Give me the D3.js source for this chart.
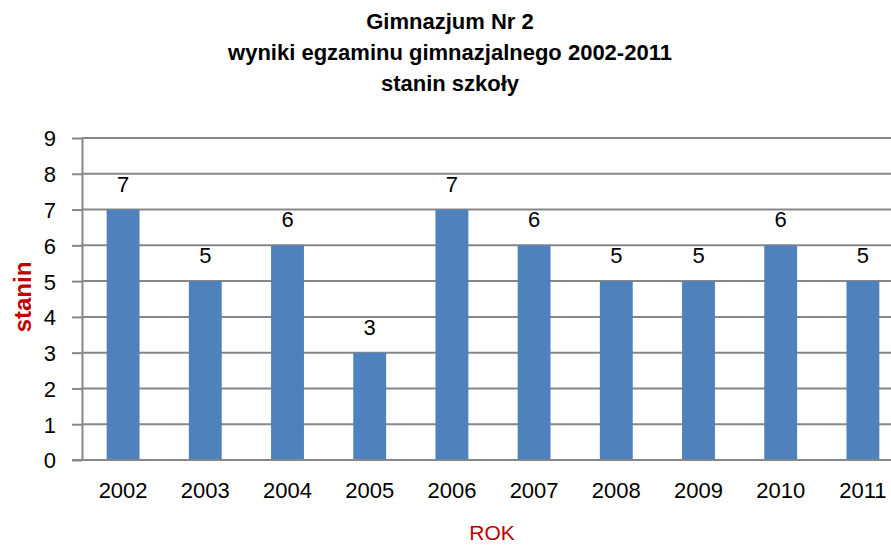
<!DOCTYPE html>
<html lang="pl">
<head>
  <meta charset="UTF-8" />
  <title>Gimnazjum Nr 2 - stanin szkoły</title>
  <script src="https://d3js.org/d3.v7.min.js"></script>
  <style>
    body {
      margin: 0;
      background-color: white;
      font-family: "Liberation Sans", Arial, sans-serif;
    }

    svg {
      display: block;
      background-color: white;
    }

    .grid line {
      stroke: #878787;
      stroke-width: 2px;
    }

    .axis path,
    .axis line {
      stroke: #878787;
      stroke-width: 2px;
    }

    .axis text {
      fill: black;
      font-size: 22px;
    }

    .bar-label {
      font-size: 22px;
      fill: black;
      text-anchor: middle;
    }

    .title {
      font-size: 22px;
      font-weight: bold;
      text-anchor: middle;
    }

    .axis-title {
      fill: #c00000;
      font-size: 21px;
      text-anchor: middle;
    }
  </style>
</head>
<body>
  <svg width="891" height="545"></svg>

  <script>
    const years = ["2002", "2003", "2004", "2005", "2006", "2007", "2008", "2009", "2010", "2011"];
    const stanin = [7, 5, 6, 3, 7, 6, 5, 5, 6, 5];
    const yTicks = [0, 1, 2, 3, 4, 5, 6, 7, 8, 9];
    const titleLines = ["Gimnazjum Nr 2", "wyniki egzaminu gimnazjalnego 2002-2011", "stanin szkoły"];

    const data = years.map((y, i) => ({ year: y, value: stanin[i] }));

    const svg = d3.select("svg"),
          margin = { top: 138, left: 82, bottom: 85 },
          height = +svg.attr("height"),
          plotRight = 904;

    const x = d3.scaleBand()
                .domain(years)
                .range([margin.left, plotRight])
                .paddingInner(0.6)
                .paddingOuter(0.3);

    const y = d3.scaleLinear()
                .domain([0, 9])
                .range([height - margin.bottom, margin.top]);

    // gridlines
    svg.append("g")
       .attr("class", "grid")
       .selectAll("line")
       .data(yTicks.slice(1))
       .enter()
       .append("line")
       .attr("x1", margin.left)
       .attr("x2", plotRight)
       .attr("y1", d => y(d))
       .attr("y2", d => y(d));

    // bars
    svg.selectAll(".bar")
       .data(data)
       .enter()
       .append("rect")
       .attr("class", "bar")
       .attr("x", d => x(d.year))
       .attr("y", d => y(d.value))
       .attr("width", x.bandwidth())
       .attr("height", d => y(0) - y(d.value))
       .attr("fill", "#4f81bd");

    // bar labels
    svg.selectAll(".bar-label")
       .data(data)
       .enter()
       .append("text")
       .attr("class", "bar-label")
       .attr("x", d => x(d.year) + x.bandwidth() / 2)
       .attr("y", d => y(d.value) - 18)
       .text(d => d.value);

    // Y axis
    const yAxis = svg.append("g")
       .attr("class", "axis")
       .attr("transform", `translate(${margin.left},0)`)
       .call(d3.axisLeft(y).tickValues(yTicks).tickSize(10).tickSizeOuter(0).tickPadding(16));
    yAxis.selectAll("text").attr("dy", "0.36em");

    // X axis
    const xAxis = svg.append("g")
       .attr("class", "axis")
       .attr("transform", `translate(0,${y(0)})`)
       .call(d3.axisBottom(x).tickSize(0).tickPadding(22));
    xAxis.select(".domain").attr("d", `M${margin.left - 10},0H${plotRight}`);

    // title
    svg.append("text")
       .attr("class", "title")
       .attr("x", 450)
       .attr("y", 29)
       .selectAll("tspan")
       .data(titleLines)
       .enter()
       .append("tspan")
       .attr("x", 450)
       .attr("dy", (d, i) => i === 0 ? 0 : 31)
       .text(d => d);

    // axis titles
    svg.append("text")
       .attr("class", "axis-title")
       .style("font-weight", "bold")
       .style("font-size", "24px")
       .attr("transform", "translate(31,297) rotate(-90)")
       .text("stanin");

    svg.append("text")
       .attr("class", "axis-title")
       .attr("x", 492)
       .attr("y", 540)
       .text("ROK");
  </script>
</body>
</html>
